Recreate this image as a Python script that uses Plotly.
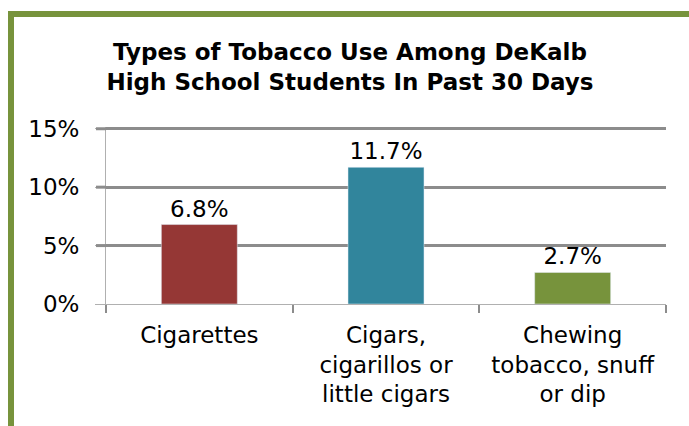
import plotly.graph_objects as go

categories = ["Cigarettes", "Cigars,<br>cigarillos or<br>little cigars", "Chewing<br>tobacco, snuff<br>or dip"]
values = [6.8, 11.7, 2.7]
bar_colors = ["#953735", "#31859C", "#77933C"]
y_ticks = [0, 5, 10, 15]
y_tick_labels = ["0%", "5%", "10%", "15%"]
title_text = "Types of Tobacco Use Among DeKalb<br>High School Students In Past 30 Days"

W, H = 689, 426
L, R, T, B = 106, 23, 127, 122
PW, PH = W - L - R, H - T - B
Y_MAX = 15.15

def px_x(p):
    return (p - L) / PW

def px_y(p):
    return (H - B - p) / PH

FONT = "DejaVu Sans"
GRID = "#8c8c8c"
AXIS = "#b0b0b0"
BORDER = "#77933C"

fig = go.Figure()
fig.add_trace(go.Bar(
    x=categories, y=values, marker_color=bar_colors, width=0.407,
    texttemplate="%{y:.1f}%", textposition="outside",
    textfont=dict(family=FONT, size=23, color="#000000"),
    cliponaxis=False, hoverinfo="skip",
))

shapes = []
for v in y_ticks[1:]:
    shapes.append(dict(type="line", xref="paper", yref="y", x0=px_x(96), x1=0,
                       y0=v, y1=v, line=dict(color=GRID, width=3)))
# green frame
shapes.append(dict(type="rect", xref="paper", yref="paper", x0=px_x(8), x1=px_x(14),
                   y0=px_y(H + 5), y1=px_y(11), fillcolor=BORDER, line=dict(width=0), layer="above"))
shapes.append(dict(type="rect", xref="paper", yref="paper", x0=px_x(8), x1=px_x(W + 5),
                   y0=px_y(17), y1=px_y(11), fillcolor=BORDER, line=dict(width=0), layer="above"))

fig.update_layout(
    width=W, height=H,
    margin=dict(l=L, r=R, t=T, b=B, pad=0),
    paper_bgcolor="white", plot_bgcolor="white",
    showlegend=False,
    font=dict(family=FONT, size=23, color="#000000"),
    title=dict(text="<b>" + title_text + "</b>", x=350 / W, xanchor="center",
               xref="container", y=1 - 60 / H, yanchor="top", yref="container",
               font=dict(family=FONT, size=23, color="#000000")),
    shapes=shapes,
)
fig.update_xaxes(
    showline=True, linecolor=AXIS, linewidth=1,
    ticks="outside", tickson="boundaries", ticklen=8, tickwidth=2, tickcolor=GRID,
    showgrid=False, ticklabelstandoff=10,
    tickfont=dict(family=FONT, size=23, color="#000000"),
)
fig.update_yaxes(
    range=[0, Y_MAX], tickvals=y_ticks, ticktext=y_tick_labels,
    showline=True, linecolor=AXIS, linewidth=1,
    ticks="outside", ticklen=10, tickwidth=1, tickcolor=AXIS,
    showgrid=True, gridcolor=GRID, gridwidth=3, zeroline=False,
    ticklabelstandoff=11,
    tickfont=dict(family=FONT, size=23, color="#000000"),
)

fig.write_html("out.html")
